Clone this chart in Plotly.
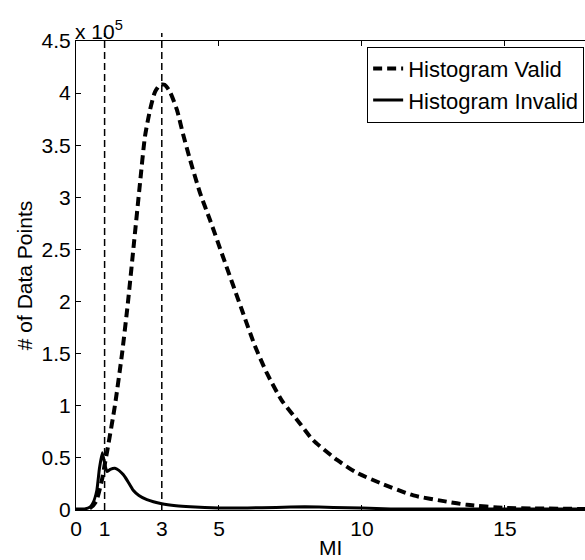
import plotly.graph_objects as go

# Data (counts; axis shown in units of 10^5)
valid_x = [0, 0.3, 0.5, 0.7, 0.9, 1.0, 1.1, 1.36, 1.61, 1.82, 2.03, 2.24, 2.41, 2.59, 2.76, 2.94,
           3.1, 3.29, 3.53, 3.74, 3.99, 4.34, 4.69, 5.14, 5.84, 6.25, 6.68, 7.2, 7.83, 8.29, 9.13,
           9.8, 10.63, 11.8, 12.97, 13.67, 15, 16, 17.8]
valid_y = [0, 0, 2000, 8000, 28000, 43000, 58000, 100000, 150000, 200000, 257000, 314000, 358000,
           384000, 401000, 408000, 408000, 401000, 384000, 361000, 336000, 304000, 278000, 243000,
           189000, 158000, 131000, 105000, 83000, 67000, 48000, 36000, 26000, 14000, 8000, 5000,
           2000, 1500, 1000]

invalid_x = [0, 0.3, 0.5, 0.6, 0.73, 0.82, 0.92, 1.0, 1.08, 1.2, 1.36, 1.5, 1.65, 1.8, 2.0, 2.2,
             2.48, 3.0, 3.5, 4, 5, 6, 7, 8, 9, 10, 11, 13, 15, 17.8]
invalid_y = [1000, 1000, 3000, 7000, 19000, 40000, 55000, 45000, 37000, 39000, 40000, 38000,
             34000, 28000, 19000, 14000, 10000, 6000, 4000, 3000, 2000, 2000, 2500, 3000, 2500,
             2000, 1000, 1000, 1000, 1000]

x_ticks = [0, 1, 3, 5, 10, 15]
y_ticks = [0, 50000, 100000, 150000, 200000, 250000, 300000, 350000, 400000, 450000]
y_tick_labels = ["0", "0.5", "1", "1.5", "2", "2.5", "3", "3.5", "4", "4.5"]
ref_lines = [1, 3]

FONT = "Arial, Liberation Sans, sans-serif"
FS = 21

fig = go.Figure()
fig.add_trace(go.Scatter(x=valid_x, y=valid_y, mode="lines", name="Histogram Valid",
                         line=dict(color="black", width=4, dash="9px,5px", shape="spline", smoothing=0.6)))
fig.add_trace(go.Scatter(x=invalid_x, y=invalid_y, mode="lines", name="Histogram Invalid",
                         line=dict(color="black", width=3, shape="spline", smoothing=0.4)))

for xv in ref_lines:
    fig.add_shape(type="line", xref="x", yref="paper", x0=xv, x1=xv, y0=0, y1=1.017,
                  line=dict(color="black", width=1.5, dash="7px,4px"))

fig.add_annotation(text="x 10<sup>5</sup>", xref="paper", yref="paper", x=0, y=1.0,
                   xanchor="left", yanchor="bottom", showarrow=False, xshift=-3, yshift=-4,
                   font=dict(family=FONT, size=FS, color="black"))

# x-axis title placed as annotation so it stays fully inside the canvas
fig.add_annotation(text="MI", xref="paper", yref="paper", x=0.5, y=-0.081,
                   xanchor="center", yanchor="middle", showarrow=False,
                   font=dict(family=FONT, size=FS, color="black"))

fig.update_layout(
    width=585, height=560,
    margin=dict(l=76, r=0, t=41, b=50, autoexpand=False),
    plot_bgcolor="white", paper_bgcolor="white",
    font=dict(family=FONT, size=FS, color="black"),
    showlegend=True,
    legend=dict(x=0.572, y=0.988, xanchor="left", yanchor="top",
                bordercolor="black", borderwidth=1, bgcolor="white",
                font=dict(family=FONT, size=22, color="black"),
                tracegroupgap=0, itemwidth=30),
    xaxis=dict(range=[0, 17.8], tickvals=x_ticks, ticktext=[str(t) for t in x_ticks],
               ticks="inside", ticklen=5, tickcolor="black", showline=True, linecolor="black",
               linewidth=1, mirror="ticks", showgrid=False, zeroline=False),
    yaxis=dict(range=[0, 450000], tickvals=y_ticks, ticktext=y_tick_labels,
               ticks="inside", ticklen=5, tickcolor="black", showline=True, linecolor="black",
               linewidth=1, showgrid=False, zeroline=False,
               title=dict(text="# of Data Points", standoff=3, font=dict(size=FS))),
)

fig.write_html("out.html")
